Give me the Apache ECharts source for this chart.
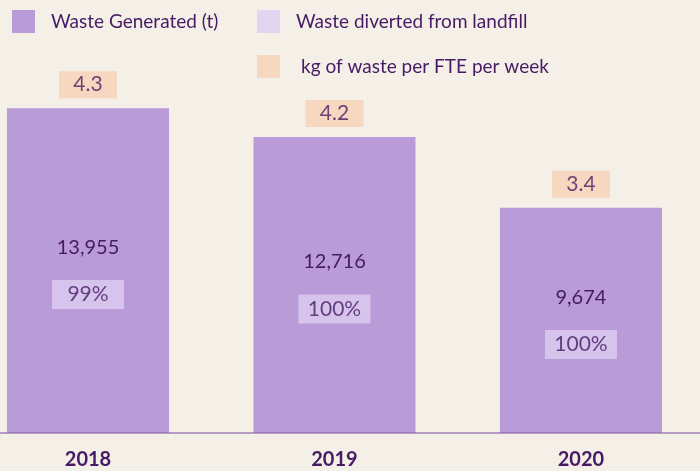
<!DOCTYPE html>
<html>
<head>
<meta charset="utf-8">
<script src="https://cdn.jsdelivr.net/npm/echarts@6/dist/echarts.min.js"></script>
<style>
  html, body { margin: 0; padding: 0; background: #F4EFE7; }
  #chart { width: 700px; height: 471px; }
</style>
</head>
<body>
<div id="chart"></div>
<script>
var years = ['2018', '2019', '2020'];
var wasteGenerated = [13955, 12716, 9674];
var divertedPct = [99, 100, 100];
var kgPerFte = [4.3, 4.2, 3.4];

var textColor = '#461A64';
var barColor = '#B99BD7';
var divertColor = '#DDCEF1';
var kgColor = '#F8D1B7';

var chart = echarts.init(document.getElementById('chart'));

function legendAt(name, left, top, padLeft) {
    return {
        data: [name],
        left: left,
        top: top,
        padding: 0,
        icon: 'rect',
        itemWidth: 23,
        itemHeight: 23,
        selectedMode: false,
        textStyle: {
            color: textColor,
            fontSize: 19,
            fontFamily: 'Lato',
            padding: [0, 0, 0, padLeft]
        }
    };
}

// year index -> x position on a value axis so the bars sit where the picture has them
function pts(vals) {
    return vals.map(function (v, i) { return [i, v]; });
}

var option = {
    backgroundColor: '#F4EFE7',
    animation: false,
    legend: [
        legendAt('Waste Generated (t)', 12, 10, 11),
        legendAt('Waste diverted from landfill', 257, 10, 11),
        legendAt('kg of waste per FTE per week', 257, 55, 16)
    ],
    grid: { left: 0, right: 0, top: 14, bottom: 38 },
    xAxis: {
        type: 'value',
        min: -0.357,
        max: 2.483,
        z: 5,
        splitLine: { show: false },
        axisTick: { show: false },
        axisLine: { lineStyle: { color: 'rgba(140,100,170,0.6)', width: 2 } },
        axisLabel: {
            customValues: [0, 1, 2],
            formatter: function (v) { return years[Math.round(v)]; },
            color: textColor,
            fontSize: 20,
            fontWeight: 'bold',
            fontFamily: 'Lato',
            margin: 17
        }
    },
    yAxis: {
        type: 'value',
        min: 0,
        max: 18000,
        show: false
    },
    series: [{
        name: 'Waste Generated (t)',
        type: 'bar',
        barWidth: 162,
        data: pts(wasteGenerated),
        itemStyle: { color: barColor },
        label: {
            show: true,
            position: 'inside',
            offset: [0, -23],
            color: textColor,
            fontSize: 20,
            fontFamily: 'Lato',
            formatter: function (p) {
                return p.value[1].toLocaleString('en-US');
            }
        }
    }, {
        name: 'Waste diverted from landfill',
        type: 'scatter',
        symbolSize: 0,
        data: pts(wasteGenerated.map(function (v) { return v / 2; })),
        itemStyle: { color: divertColor },
        label: {
            show: true,
            position: 'inside',
            offset: [0, 24],
            color: textColor,
            fontSize: 21,
            fontFamily: 'Lato',
            backgroundColor: divertColor,
            width: 72,
            height: 29,
            lineHeight: 29,
            align: 'center',
            verticalAlign: 'middle',
            formatter: function (p) {
                return divertedPct[p.dataIndex] + '%';
            }
        }
    }, {
        name: 'kg of waste per FTE per week',
        type: 'scatter',
        symbolSize: 0,
        data: pts(wasteGenerated),
        itemStyle: { color: kgColor },
        label: {
            show: true,
            position: 'top',
            distance: 10,
            color: textColor,
            fontSize: 21,
            fontFamily: 'Lato',
            backgroundColor: kgColor,
            width: 58,
            height: 27,
            lineHeight: 27,
            align: 'center',
            formatter: function (p) {
                return kgPerFte[p.dataIndex].toFixed(1);
            }
        }
    }]
};

chart.setOption(option);
</script>
</body>
</html>
